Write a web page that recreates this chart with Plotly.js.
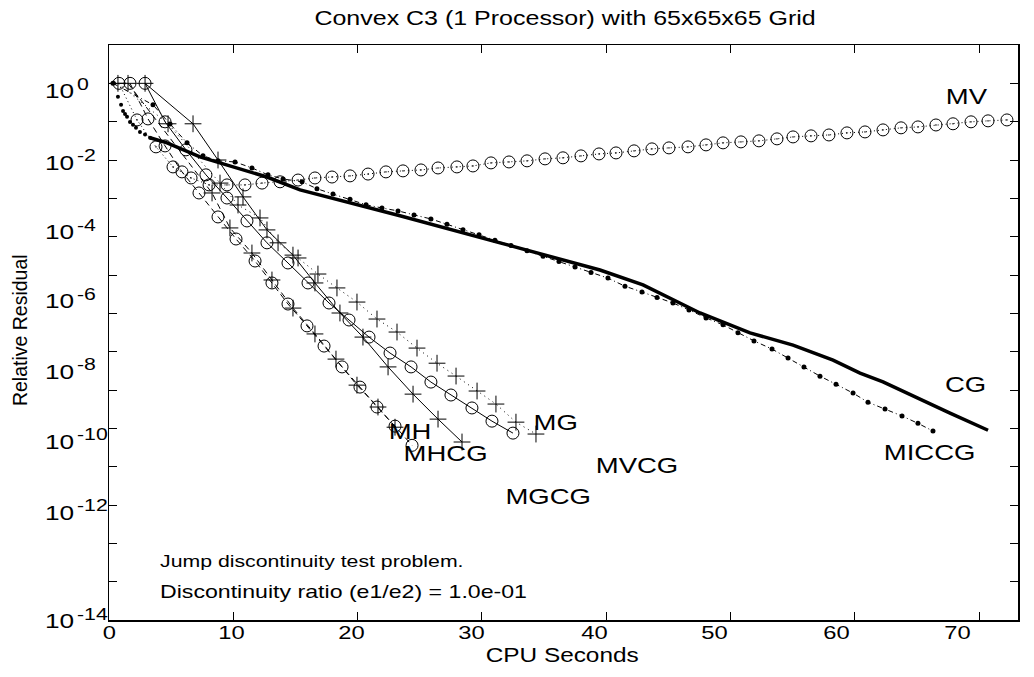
<!DOCTYPE html>
<html><head><meta charset="utf-8">
<script src="https://cdn.plot.ly/plotly-3.0.1.min.js"></script>
<style>html,body{margin:0;padding:0;background:#fff}</style>
</head><body>
<div id="chart" style="width:1034px;height:677px"></div>
<script>
// ---------- data (CPU seconds, relative residual) ----------
const cgStartX = [0.40, 0.72, 0.97, 1.13, 1.29, 1.45, 1.69, 1.93, 2.17, 2.49, 2.90, 3.30];
const cgStartY = [1.0, 4.5e-1, 2.75e-1, 1.9e-1, 1.58e-1, 1.35e-1, 9.8e-2, 8.3e-2, 6.9e-2, 5.4e-2, 4.6e-2, 3.8e-2];
const cgX = [3.30, 4.67, 7.32, 9.98, 12.71, 15.37, 23.41, 31.46, 39.50, 42.96, 47.55, 51.57, 55.03, 58.25, 60.42, 62.27, 65.00, 67.66, 70.72];
const cgY = [3.8e-2, 2.8e-2, 1.2e-2, 6.6e-3, 3.6e-3, 1.66e-3, 3.5e-4, 6.9e-5, 1.35e-5, 5.5e-6, 1.02e-6, 3.1e-7, 1.48e-7, 6.0e-8, 2.75e-8, 1.62e-8, 6.2e-9, 2.5e-9, 8.9e-10];

const miccgX = [0.32, 3.54, 4.91, 6.28, 7.56, 8.77, 10.14, 11.50, 12.79, 14.00, 15.53, 16.73, 18.02, 19.39, 20.68, 21.96, 23.25, 24.54, 25.90, 27.19, 28.48, 29.77, 31.05, 32.34, 33.63, 34.92, 36.20, 37.49, 38.78, 40.14, 41.51, 42.88, 44.09, 45.37, 46.66, 48.03, 49.40, 50.60, 51.89, 53.34, 54.63, 55.91, 57.20, 58.49, 59.86, 61.06, 62.43, 63.80, 65.08, 66.29];
const miccgY = [1.0, 2.75e-1, 8.7e-2, 2.8e-2, 1.29e-2, 9.5e-3, 8.9e-3, 6.2e-3, 4.1e-3, 3.2e-3, 2.7e-3, 1.78e-3, 1.29e-3, 9.5e-4, 6.8e-4, 5.6e-4, 4.7e-4, 3.7e-4, 2.9e-4, 2.1e-4, 1.51e-4, 1.12e-4, 8.1e-5, 5.9e-5, 4.3e-5, 3.1e-5, 2.24e-5, 1.62e-5, 1.17e-5, 8.3e-6, 5.1e-6, 3.6e-6, 2.6e-6, 1.86e-6, 1.23e-6, 7.6e-7, 5.0e-7, 3.1e-7, 1.91e-7, 1.17e-7, 6.8e-8, 4.0e-8, 2.3e-8, 1.41e-8, 8.3e-9, 4.8e-9, 3.2e-9, 2.1e-9, 1.35e-9, 8.5e-10];

const mvX = [0.80, 2.25, 3.78, 5.15, 6.60, 8.05, 9.49, 10.94, 12.31, 13.76, 15.21, 16.57, 17.94, 19.39, 20.84, 22.28, 23.65, 25.10, 26.47, 27.99, 29.28, 30.73, 32.18, 33.63, 35.08, 36.52, 37.97, 39.42, 40.79, 42.24, 43.68, 45.05, 46.58, 48.03, 49.40, 50.84, 52.29, 53.74, 55.03, 56.48, 57.92, 59.37, 60.82, 62.27, 63.72, 65.08, 66.53, 67.90, 69.35, 70.72, 72.24];
const mvY = [1.0, 1.11e-1, 2.2e-2, 6.6e-3, 3.4e-3, 2.24e-3, 2.24e-3, 2.24e-3, 2.5e-3, 2.7e-3, 3.0e-3, 3.4e-3, 3.6e-3, 3.85e-3, 4.3e-3, 4.9e-3, 5.2e-3, 5.5e-3, 6.2e-3, 6.6e-3, 7.0e-3, 8.4e-3, 8.9e-3, 9.5e-3, 1.07e-2, 1.14e-2, 1.28e-2, 1.44e-2, 1.53e-2, 1.73e-2, 1.95e-2, 2.07e-2, 2.2e-2, 2.48e-2, 2.8e-2, 2.97e-2, 3.16e-2, 3.56e-2, 4.0e-2, 4.26e-2, 4.5e-2, 5.1e-2, 5.4e-2, 6.1e-2, 6.9e-2, 7.3e-2, 8.2e-2, 8.8e-2, 9.9e-2, 1.05e-1, 1.11e-1];

const mgcgX = [2.90, 4.51, 6.19, 7.80, 9.49, 11.10, 12.71, 14.40, 16.01, 17.70, 19.31, 20.92, 22.61, 24.30, 25.90, 27.51, 29.20, 30.81, 32.50];
const mgcgY = [1.0, 9.9e-2, 1.84e-2, 4.1e-3, 1.02e-3, 2.57e-4, 6.9e-5, 2.06e-5, 6.2e-6, 1.86e-6, 6.7e-7, 2.4e-7, 9.2e-8, 4.0e-8, 1.61e-8, 7.4e-9, 3.4e-9, 1.54e-9, 7.5e-10];

const mhX = [1.69, 3.14, 4.51, 5.87, 7.24, 8.77, 10.22, 11.75, 13.11, 14.40, 15.93, 17.30, 18.75, 20.19, 21.56, 23.01, 24.38];
const mhY = [1.0, 1.18e-1, 2.33e-2, 4.9e-3, 1.38e-3, 3.27e-4, 8.7e-5, 2.32e-5, 6.2e-6, 1.75e-6, 4.7e-7, 1.4e-7, 4.0e-8, 1.19e-8, 3.6e-9, 1.14e-9, 3.6e-10];

const mvcgX = [2.90, 6.76, 8.77, 10.78, 12.71, 14.80, 16.57, 18.58, 20.43, 22.45, 24.46, 26.47, 28.40];
const mvcgY = [1.0, 8.8e-2, 1.0e-2, 1.09e-3, 1.5e-4, 3.3e-5, 6.2e-6, 1.02e-6, 2.4e-7, 4.0e-8, 7.8e-9, 1.74e-9, 4.4e-10];

const mgX = [0.72, 4.75, 8.93, 10.38, 12.15, 13.60, 15.21, 16.81, 18.34, 19.95, 21.56, 23.17, 24.78, 26.39, 27.92, 29.61, 31.13, 32.74, 34.35];
const mgY = [1.0, 8.8e-2, 2.5e-3, 6.7e-4, 3.08e-4, 6.9e-5, 2.78e-5, 1.06e-5, 4.6e-6, 1.97e-6, 7.1e-7, 3.25e-7, 1.24e-7, 5.0e-8, 2.31e-8, 9.4e-9, 4.3e-9, 1.45e-9, 7.1e-10];

const mhcgX = [1.53, 8.29, 9.73, 11.50, 13.11, 14.80, 16.57, 18.26, 19.95, 21.64, 23.01];
const mhcgY = [1.0, 1.38e-3, 1.69e-4, 3.75e-5, 7.4e-6, 1.37e-6, 2.9e-7, 6.4e-8, 1.34e-8, 3.6e-9, 1.07e-9];

// ---------- texts ----------
const seriesNames = ['MV', 'CG', 'MICCG', 'MH', 'MHCG', 'MG', 'MGCG', 'MVCG'];
const xTickText = ['0', '10', '20', '30', '40', '50', '60', '70'];
const yTickBase = '10';
const yTickExp = ['0', '-2', '-4', '-6', '-8', '-10', '-12', '-14'];
const noteLines = ['Jump discontinuity test problem.', 'Discontinuity ratio (e1/e2) = 1.0e-01'];
const titleText = 'Convex C3 (1 Processor) with 65x65x65 Grid';
const xTitleText = 'CPU Seconds';
const yTitleText = 'Relative Residual';

// ---------- layout / style ----------
const FONT = 'Liberation Sans, Arial, Helvetica, sans-serif';
const K = 'black';
const STRETCH = 1.25;   // the reference's lettering is horizontally widened
// where the reference prints its tick labels (slightly off its tick marks), in paper units
const xLabelPaper = [0.0011, 0.1353, 0.2673, 0.3993, 0.5336, 0.6656, 0.7998, 0.9329];
const yLabelPaper = [0.920, 0.7965, 0.6748, 0.5548, 0.4330, 0.3113, 0.1878, -0.0017];
const EXP_DX = 0.0352, EXP_DY = 0.0115;   // exponent offset from the "10"
const nameLabelPos = [[0.943, 0.911], [0.942, 0.409], [0.903, 0.292], [0.331, 0.327], [0.370, 0.290], [0.491, 0.343], [0.483, 0.214], [0.581, 0.268]];
const xTickAt = [0, 10, 20, 30, 40, 50, 60, 70];
const yTickAt = [1e0, 1e-1, 1e-2, 1e-3, 1e-4, 1e-5, 1e-6, 1e-7, 1e-8, 1e-9, 1e-10, 1e-11, 1e-12, 1e-13];

const traces = [
  {x: mvX, y: mvY, mode: 'lines+markers', line: {color: K, width: 1, dash: '1px,3px'},
   marker: {symbol: 'circle-open-dot', size: 12, color: K, line: {width: 1, color: K}}},
  {x: cgStartX, y: cgStartY, mode: 'markers', marker: {size: 4, color: K}},
  {x: cgX, y: cgY, mode: 'lines', line: {color: K, width: 3.5}},
  {x: miccgX, y: miccgY, mode: 'lines+markers', line: {color: K, width: 1, dash: '5px,3px,1px,3px'},
   marker: {size: 5, color: K}},
  {x: mgcgX, y: mgcgY, mode: 'lines+markers', line: {color: K, width: 1},
   marker: {symbol: 'circle-open', size: 12, color: K, line: {width: 1, color: K}}},
  {x: mhX, y: mhY, mode: 'lines+markers', line: {color: K, width: 1, dash: '6px,4px'},
   marker: {symbol: 'circle-open', size: 12, color: K, line: {width: 1, color: K}}},
  {x: mvcgX, y: mvcgY, mode: 'lines+markers', line: {color: K, width: 1},
   marker: {symbol: 'cross-thin', size: 12, color: K, line: {width: 1, color: K}}},
  {x: mgX, y: mgY, mode: 'lines+markers', line: {color: K, width: 1, dash: '1px,4px'},
   marker: {symbol: 'cross-thin', size: 12, color: K, line: {width: 1, color: K}}},
  {x: mhcgX, y: mhcgY, mode: 'lines+markers', line: {color: K, width: 1, dash: '6px,4px'},
   marker: {symbol: 'cross-thin', size: 12, color: K, line: {width: 1, color: K}}}
];
traces.forEach(t => { t.showlegend = false; t.hoverinfo = 'skip'; });

const annotations = [];
const leftAnchored = new Set();
yTickExp.forEach((e, i) => {
  leftAnchored.add(annotations.length);
  annotations.push({
    xref: 'paper', yref: 'paper', x: -0.0726, y: yLabelPaper[i], xanchor: 'left', yanchor: 'middle',
    text: yTickBase, showarrow: false, font: {family: FONT, size: 21, color: K}
  });
  leftAnchored.add(annotations.length);
  annotations.push({
    xref: 'paper', yref: 'paper', x: -0.0726 + EXP_DX, y: yLabelPaper[i] + EXP_DY, xanchor: 'left', yanchor: 'middle',
    text: e, showarrow: false, font: {family: FONT, size: 17, color: K}
  });
});
xTickText.forEach((t, i) => annotations.push({
  xref: 'paper', yref: 'paper', x: xLabelPaper[i], y: -0.021, xanchor: 'center', yanchor: 'middle',
  text: t, showarrow: false, font: {family: FONT, size: 19, color: K}
}));
seriesNames.forEach((t, i) => annotations.push({
  xref: 'paper', yref: 'paper', x: nameLabelPos[i][0], y: nameLabelPos[i][1], xanchor: 'center', yanchor: 'middle',
  text: t, showarrow: false, font: {family: FONT, size: 22, color: K}
}));
noteLines.forEach((t, i) => { leftAnchored.add(annotations.length); annotations.push({
  xref: 'paper', yref: 'paper', x: 0.0539, y: [0.1026, 0.0487][i], xanchor: 'left', yanchor: 'middle',
  text: t, showarrow: false, font: {family: FONT, size: [17, 18.5][i], color: K}
}); });
annotations.push({xref: 'paper', yref: 'paper', x: 0.4994, y: -0.061, xanchor: 'center', yanchor: 'middle',
  text: xTitleText, showarrow: false, font: {family: FONT, size: 19.5, color: K}});
const yTitleIdx = annotations.length;
annotations.push({xref: 'paper', yref: 'paper', x: -0.098, y: 0.504, xanchor: 'center', yanchor: 'middle',
  text: yTitleText, textangle: -90, showarrow: false, font: {family: FONT, size: 19.5, color: K}});

const layout = {
  width: 1034, height: 677,
  margin: {l: 109, r: 16, t: 45, b: 57},
  paper_bgcolor: 'white', plot_bgcolor: 'white',
  font: {family: FONT, color: K},
  title: {text: titleText, x: 0.5465, xanchor: 'center', y: 0.973, yanchor: 'middle',
          font: {family: FONT, size: 20, color: K}},
  xaxis: {
    range: [0, 73.13], showgrid: false, zeroline: false,
    showline: true, mirror: 'allticks', linecolor: K, linewidth: 1.5,
    tickmode: 'array', tickvals: xTickAt, ticks: 'inside', ticklen: 8, tickwidth: 1, tickcolor: K,
    showticklabels: false
  },
  yaxis: {
    type: 'log', range: [-14, 1], showgrid: false, zeroline: false,
    showline: true, mirror: 'allticks', linecolor: K, linewidth: 1.5,
    tickmode: 'array', tickvals: yTickAt, ticks: 'inside', ticklen: 8, tickwidth: 1, tickcolor: K,
    showticklabels: false
  },
  annotations: annotations
};

// widen lettering horizontally (about each text's anchor), as in the reference
function widenText(gd) {
  gd.querySelectorAll('svg.main-svg text').forEach(t => {
    if (!t.textContent.trim()) return;
    const ann = t.closest('g.annotation');
    const idx = ann ? +ann.getAttribute('data-index') : -1;
    if (idx === yTitleIdx) return;
    const bb = t.getBBox();
    const ax = (idx >= 0 && leftAnchored.has(idx)) ? bb.x : bb.x + bb.width / 2;
    const old = t.getAttribute('transform') || '';
    t.setAttribute('transform', old + ' translate(' + ax + ',0) scale(' + STRETCH + ',1) translate(' + (-ax) + ',0)');
  });
}

Plotly.newPlot('chart', traces, layout, {staticPlot: true, displayModeBar: false}).then(widenText);
</script>
</body></html>
